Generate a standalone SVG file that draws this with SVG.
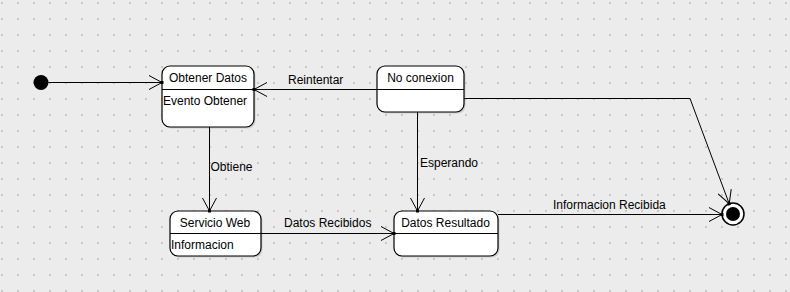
<svg xmlns="http://www.w3.org/2000/svg" width="790" height="292" viewBox="0 0 790 292">
<defs>
<pattern id="grid" x="0" y="0" width="16" height="16" patternUnits="userSpaceOnUse">
<rect x="1" y="2" width="2" height="2" fill="#c9c9c9"/>
</pattern>
<marker id="arr" viewBox="-14 -8 16 16" refX="0" refY="0" markerWidth="16" markerHeight="16" markerUnits="userSpaceOnUse" orient="auto">
<path d="M-13,-7 L0,0 L-13,7" fill="none" stroke="#000" stroke-width="1"/>
<rect x="-1.5" y="-1.5" width="3" height="3" fill="#000"/>
</marker>
</defs>
<style>
.st{fill:#fff;stroke:#000;stroke-width:1.2}
.sh{fill:#cccccc}
.dv{stroke:#000;stroke-width:1.2}
.t{font-family:"Liberation Sans",Arial,sans-serif;font-size:12px;fill:#000}
.c{text-anchor:middle}
.e{fill:none;stroke:#000;stroke-width:1;marker-end:url(#arr)}
</style>
<rect width="790" height="292" fill="#ececec"/>
<rect width="790" height="292" fill="url(#grid)"/>

<g id="initial">
<circle cx="41" cy="82.5" r="7.5" fill="#000"/>
</g>

<g id="obtener-datos">
<rect class="sh" x="163.5" y="67.5" width="92" height="61" rx="8"/>
<rect class="st" x="162" y="66" width="92" height="61" rx="8"/>
<line class="dv" x1="162" y1="89.5" x2="254" y2="89.5"/>
<text class="t c" x="208" y="82">Obtener Datos</text>
<text class="t" x="163" y="105">Evento Obtener</text>
</g>

<g id="no-conexion">
<rect class="sh" x="378.5" y="67.5" width="87" height="46" rx="8"/>
<rect class="st" x="377" y="66" width="87" height="46" rx="8"/>
<line class="dv" x1="377" y1="89.5" x2="464" y2="89.5"/>
<text class="t c" x="420.5" y="82">No conexion</text>
</g>

<g id="servicio-web">
<rect class="sh" x="171.5" y="212.5" width="91" height="45" rx="8"/>
<rect class="st" x="170" y="211" width="91" height="45" rx="8"/>
<line class="dv" x1="170" y1="233.5" x2="261" y2="233.5"/>
<text class="t c" x="215" y="227">Servicio Web</text>
<text class="t" x="171" y="248.5">Informacion</text>
</g>

<g id="datos-resultado">
<rect class="sh" x="395.5" y="212.5" width="104" height="45" rx="8"/>
<rect class="st" x="394" y="211" width="104" height="45" rx="8"/>
<line class="dv" x1="394" y1="233.5" x2="498" y2="233.5"/>
<text class="t c" x="445.5" y="227">Datos Resultado</text>
</g>

<g id="final">
<circle cx="733" cy="214" r="11" fill="#fff" stroke="#000" stroke-width="1.5"/>
<circle cx="733" cy="214" r="7" fill="#000"/>
</g>

<g id="connectors">
<path class="e" d="M48.5,82.5 L162,82.5"/>
<path class="e" d="M377,89.5 L254,89.5"/>
<path class="e" d="M209.5,127 L209.5,211"/>
<path class="e" d="M417.5,112 L417.5,211"/>
<path class="e" d="M261,233.5 L394,233.5"/>
<path class="e" d="M498,214.5 L722,214.5"/>
<path class="e" d="M464,98.5 L690,98.5 L729.2,203.7"/>
<text class="t" x="288" y="84">Reintentar</text>
<text class="t" x="210.5" y="171">Obtiene</text>
<text class="t" x="420" y="167">Esperando</text>
<text class="t" x="284" y="227">Datos Recibidos</text>
<text class="t" x="553" y="209">Informacion Recibida</text>
</g>
</svg>
